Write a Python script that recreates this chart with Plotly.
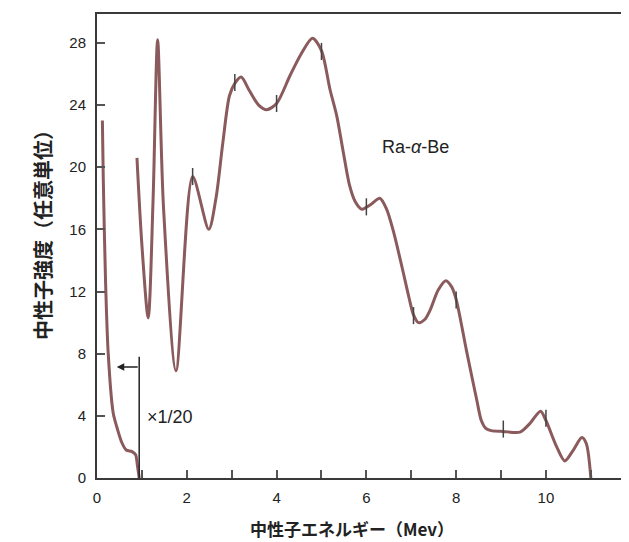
import plotly.graph_objects as go

# Low-energy segment (plotted at x1/20)
low_x = [0.12, 0.14, 0.19, 0.25, 0.36, 0.45, 0.55, 0.65, 0.78, 0.86, 0.90, 0.94]
low_y = [23.0, 19.2, 12.7, 8.0, 4.2, 3.2, 2.3, 1.8, 1.7, 1.5, 0.8, 0.0]

# Main spectrum
main_x = [0.89, 1.0, 1.14, 1.25, 1.35, 1.48, 1.76, 2.13, 2.49, 2.65, 2.8, 2.95,
          3.07, 3.21, 3.4, 3.6, 3.78, 4.0, 4.3, 4.55, 4.8, 5.0, 5.19, 5.34, 5.49, 5.62, 5.75,
          5.9, 6.1, 6.3, 6.45, 6.6, 6.8, 6.95, 7.05, 7.16, 7.3, 7.42, 7.6, 7.77, 7.9, 8.0,
          8.23, 8.46, 8.56, 8.66, 8.78, 9.05, 9.42, 9.64, 9.88, 10.0, 10.24, 10.42, 10.61,
          10.8, 10.9, 11.0]
main_y = [20.6, 15.0, 10.3, 18.0, 28.2, 17.5, 6.9, 19.4, 16.0, 18.0, 21.5, 24.6,
          25.4, 25.8, 24.9, 24.0, 23.7, 24.1, 25.9, 27.3, 28.3, 27.5, 25.0, 23.3, 20.9, 18.9, 17.8,
          17.3, 17.6, 18.0, 17.3, 15.9, 13.5, 11.6, 10.5, 10.0, 10.2, 10.8, 12.1, 12.7, 12.3, 11.5,
          8.2, 5.0, 3.7, 3.2, 3.05, 3.0, 2.95, 3.5, 4.3, 3.7, 2.0, 1.1, 1.8,
          2.6, 2.2, 0.0]

# Short vertical marks on the curve
mark_x = [2.13, 3.07, 4.0, 5.0, 6.0, 7.05, 8.0, 9.05, 10.0]
mark_y = [19.4, 25.45, 24.1, 27.45, 17.45, 10.45, 11.45, 3.15, 3.85]
mark_half = 0.55

x_tickvals = list(range(0, 12))
x_ticktext = [str(v) if v % 2 == 0 else "" for v in x_tickvals]
y_tickvals = [0, 4, 8, 12, 16, 20, 24, 28]

curve_color = "#8a5a5c"

W, H = 621, 534          # page has an 8px body margin
ML, MR, MT, MB = 89, 0, 6, 64
pw, ph = W - ML - MR, H - MT - MB


def px_to_paper(px, py):
    # px, py are page pixel coordinates (including 8px body offset)
    fx, fy = px - 8, py - 8
    return (fx - ML) / pw, (H - MB - fy) / ph


fig = go.Figure()
fig.add_trace(go.Scatter(x=low_x, y=low_y, mode="lines",
                         line=dict(color=curve_color, width=3, shape="spline", smoothing=0.8),
                         hoverinfo="skip"))
fig.add_trace(go.Scatter(x=main_x, y=main_y, mode="lines",
                         line=dict(color=curve_color, width=3, shape="spline", smoothing=0.8),
                         hoverinfo="skip"))

mx, my = [], []
for xv, yv in zip(mark_x, mark_y):
    mx += [xv, xv, None]
    my += [yv - mark_half, yv + mark_half, None]
fig.add_trace(go.Scatter(x=mx, y=my, mode="lines", line=dict(color="#444", width=1.5),
                         hoverinfo="skip"))

# x1/20 bracket: vertical line
fig.add_trace(go.Scatter(x=[0.94, 0.94], y=[0, 7.8], mode="lines",
                         line=dict(color="#222", width=1.5), hoverinfo="skip"))

tick_font = dict(family="Liberation Sans, Arial, sans-serif", size=15, color="#222")
label_font = dict(family="Liberation Sans, Arial, sans-serif", size=18, color="#222")

xt_x, xt_y = px_to_paper(352, 528)
yt_x, yt_y = px_to_paper(42, 230)

fig.update_layout(
    width=W, height=H,
    margin=dict(l=ML, r=MR, t=MT, b=MB, autoexpand=False),
    paper_bgcolor="white", plot_bgcolor="white",
    showlegend=False,
    xaxis=dict(range=[0, 11.85], tickvals=x_tickvals, ticktext=x_ticktext,
               ticks="inside", ticklen=8, tickwidth=1.5, tickcolor="#555",
               showline=True, linecolor="#3a3a3a", linewidth=2, mirror=True,
               showgrid=False, zeroline=False, tickfont=tick_font,
               ticklabelstandoff=5),
    yaxis=dict(range=[0, 29.86], tickvals=y_tickvals,
               ticks="inside", ticklen=8, tickwidth=1.5, tickcolor="#555",
               showline=True, linecolor="#3a3a3a", linewidth=2,
               showgrid=False, zeroline=False, tickfont=tick_font,
               ticklabelstandoff=6),
    annotations=[
        dict(x=0.44, y=7.15, ax=0.94, ay=7.15, xref="x", yref="y", axref="x", ayref="y",
             text="", showarrow=True, arrowhead=2, arrowsize=1, arrowwidth=1.5,
             arrowcolor="#222"),
        dict(x=1.06, y=3.9, xref="x", yref="y", text="×1/20", showarrow=False,
             xanchor="left", yanchor="middle", font=label_font),
        dict(x=7.1, y=21.3, xref="x", yref="y", text="Ra-<i>α</i>-Be", showarrow=False,
             xanchor="center", yanchor="middle", font=label_font),
        dict(x=xt_x, y=xt_y, xref="paper", yref="paper",
             text="<b>中性子エネルギー（Mev）</b>", showarrow=False,
             xanchor="center", yanchor="middle",
             font=dict(family="Noto Sans CJK JP", size=17, color="#222")),
        dict(x=yt_x, y=yt_y, xref="paper", yref="paper",
             text="<b>中性子強度（任意単位）</b>", showarrow=False, textangle=-90,
             xanchor="center", yanchor="middle",
             font=dict(family="Noto Sans CJK JP", size=20, color="#222")),
    ],
)

fig.write_html("out.html")
